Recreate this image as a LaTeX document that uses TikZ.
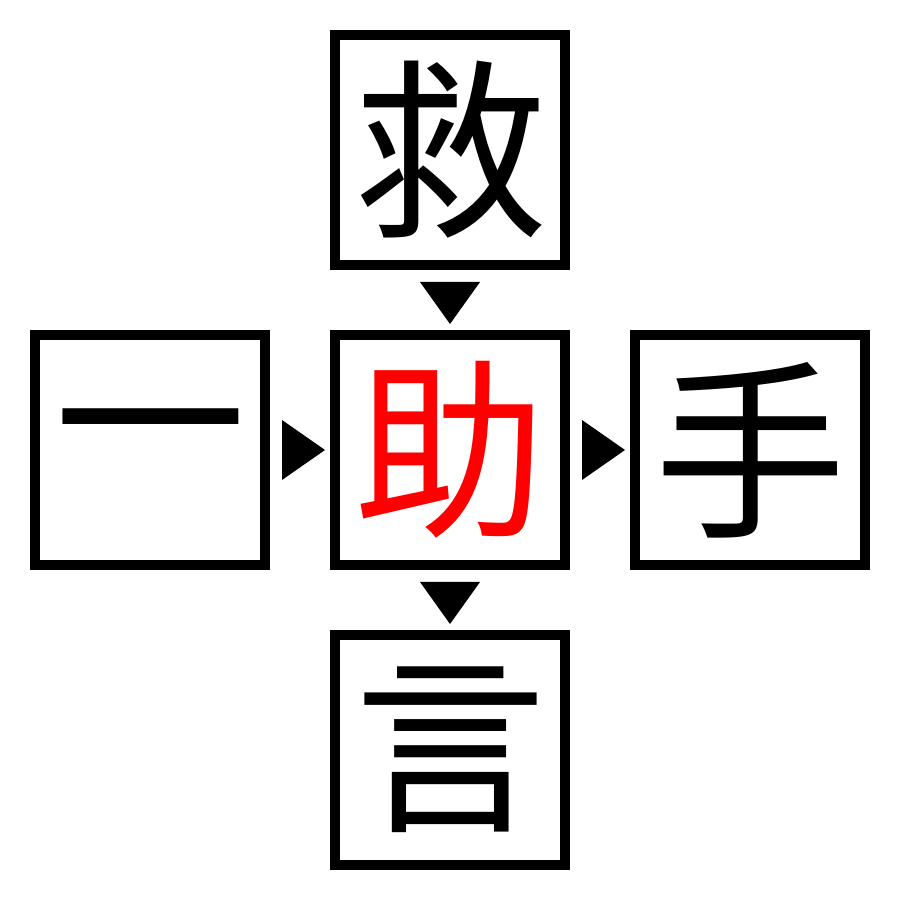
\documentclass[tikz,border=0pt]{standalone}
\usepackage{fontspec}
\newfontfamily\cjk{Noto Sans CJK JP}
\usetikzlibrary{positioning,calc}

\tikzset{
  kanji/.style={draw,line width=10pt,minimum size=230pt,inner sep=0pt,outer sep=0pt,
    font=\cjk\fontsize{192pt}{192pt}\selectfont},
  pointer/.style={fill=black}
}

\begin{document}
\begin{tikzpicture}[x=1pt,y=1pt]
\useasboundingbox (0,0) rectangle (900,900);

  \node[kanji,text=red] (mid) at (450,450) {助};
  \node[kanji,above=70pt of mid] (top) {救};
  \node[kanji,below=70pt of mid] (bot) {言};
  \node[kanji,left=70pt of mid] (lft) {一};
  \node[kanji,right=70pt of mid] (rgt) {手};

  % arrows between the boxes
  \fill[pointer] ($(top.south)+(-30,-17)$) -- ($(top.south)+(30,-17)$) -- ($(top.south)+(0,-59)$) -- cycle;
  \fill[pointer] ($(mid.south)+(-30,-17)$) -- ($(mid.south)+(30,-17)$) -- ($(mid.south)+(0,-59)$) -- cycle;
  \fill[pointer] ($(lft.east)+(17,30)$) -- ($(lft.east)+(17,-30)$) -- ($(lft.east)+(60,0)$) -- cycle;
  \fill[pointer] ($(mid.east)+(17,30)$) -- ($(mid.east)+(17,-30)$) -- ($(mid.east)+(60,0)$) -- cycle;

\end{tikzpicture}
\end{document}
